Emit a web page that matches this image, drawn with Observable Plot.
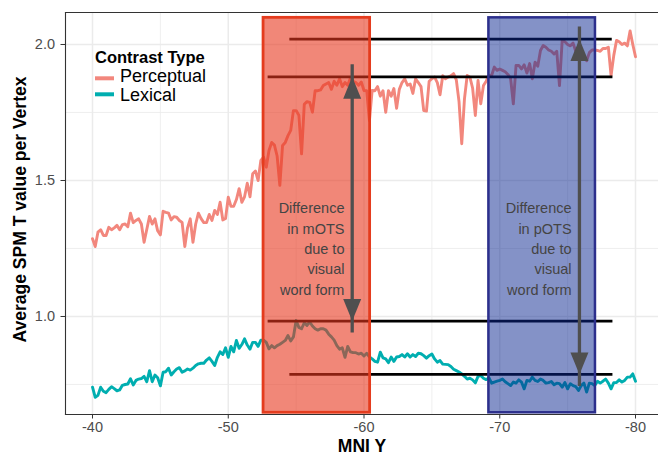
<!DOCTYPE html>
<html><head><meta charset="utf-8">
<script src="https://cdn.jsdelivr.net/npm/d3@7"></script>
<script src="https://cdn.jsdelivr.net/npm/@observablehq/plot@0.6"></script>
<style>
body{margin:0;background:#fff;font-family:"Liberation Sans",Arial,sans-serif;}
#wrap{position:relative;width:658px;height:456px;overflow:hidden}
#legend{position:absolute;left:0;top:0;pointer-events:none}
</style></head><body><div id="wrap"></div>
<script>
// MNI Y grid (regular spacing of the vertex samples)
const xStart = -40, xStep = -0.2;
const perceptual = [
1.286,1.257,1.31,1.319,1.298,1.298,1.328,1.319,1.326,1.335,
1.319,1.338,1.34,1.33,1.38,1.345,1.353,1.359,1.34,1.273,
1.321,1.368,1.34,1.359,1.315,1.30,1.387,1.383,1.38,1.355,
1.367,1.365,1.353,1.346,1.257,1.326,1.359,1.273,1.34,1.38,
1.36,1.345,1.345,1.375,1.353,1.39,1.375,1.42,1.355,1.36,
1.439,1.405,1.405,1.43,1.47,1.42,1.44,1.49,1.44,1.525,
1.535,1.50,1.574,1.586,1.549,1.61,1.64,1.63,1.59,1.482,
1.629,1.64,1.665,1.684,1.757,1.757,1.74,1.598,1.78,1.79,
1.787,1.751,1.83,1.83,1.833,1.849,1.855,1.86,1.835,1.865,
1.85,1.874,1.845,1.86,1.85,1.877,1.865,1.86,1.85,1.862,
1.831,1.83,1.72,1.831,1.83,1.845,1.81,1.83,1.751,1.83,
1.81,1.838,1.765,1.835,1.86,1.874,1.85,1.855,1.82,1.874,
1.86,1.845,1.757,1.755,1.865,1.874,1.88,1.86,1.815,1.885,
1.874,1.88,1.885,1.893,1.87,1.79,1.635,1.80,1.886,1.88,
1.84,1.739,1.868,1.782,1.849,1.865,1.886,1.886,1.917,1.905,
1.91,1.905,1.90,1.89,1.875,1.782,1.923,1.923,1.91,1.925,
1.895,1.93,1.874,1.935,1.92,1.978,1.996,1.99,1.98,1.975,
1.965,1.975,1.849,2.015,2.01,2.00,1.995,2.005,1.975,1.96,
1.965,1.955,1.94,1.97,1.98,1.98,1.978,1.975,1.985,1.985,
1.99,1.886,1.96,2.015,2.01,2.0,2.005,1.995,2.05,2.0,
1.955];
const lexical = [
0.74,0.703,0.71,0.74,0.725,0.72,0.732,0.742,0.735,0.727,
0.73,0.747,0.75,0.752,0.771,0.748,0.765,0.77,0.772,0.78,
0.76,0.801,0.76,0.785,0.775,0.745,0.795,0.797,0.81,0.785,
0.797,0.807,0.812,0.795,0.8,0.807,0.803,0.81,0.82,0.826,
0.828,0.828,0.84,0.848,0.835,0.82,0.85,0.87,0.86,0.885,
0.85,0.89,0.87,0.912,0.883,0.897,0.918,0.895,0.88,0.905,
0.905,0.89,0.913,0.913,0.905,0.881,0.893,0.885,0.893,0.898,
0.905,0.912,0.93,0.91,0.925,0.985,0.96,0.955,0.977,0.967,
0.98,0.965,0.955,0.95,0.955,0.955,0.95,0.935,0.925,0.913,
0.893,0.88,0.885,0.85,0.89,0.87,0.867,0.867,0.862,0.865,
0.855,0.865,0.851,0.844,0.835,0.832,0.869,0.848,0.844,0.83,
0.851,0.835,0.851,0.853,0.86,0.851,0.863,0.851,0.86,0.853,
0.865,0.863,0.856,0.847,0.856,0.862,0.844,0.832,0.838,0.825,
0.824,0.823,0.816,0.806,0.801,0.796,0.789,0.78,0.77,0.773,
0.767,0.756,0.78,0.783,0.773,0.768,0.775,0.755,0.759,0.762,
0.765,0.77,0.76,0.753,0.746,0.759,0.755,0.767,0.759,0.734,
0.765,0.762,0.777,0.765,0.761,0.77,0.765,0.755,0.757,0.761,
0.749,0.755,0.753,0.74,0.757,0.734,0.753,0.746,0.742,0.728,
0.746,0.755,0.722,0.755,0.753,0.746,0.762,0.755,0.762,0.77,
0.755,0.734,0.757,0.757,0.767,0.759,0.765,0.777,0.777,0.789,
0.762];
const seriesNames = ["Perceptual", "Lexical"];
const legendTitle = "Contrast Type";

const xTicks = [-40, -50, -60, -70, -80];
const xMinor = [-45, -55, -65, -75];
const yTicks = [1.0, 1.5, 2.0];
const yMinor = [0.75, 1.25, 1.75];

// highlighted regions (MNI Y extents) and their vertical extent
const regionNames = ["mOTS", "pOTS"];
const regionX1 = [-52.6, -69.2];
const regionX2 = [-60.45, -77.05];
const regionY1 = [0.646, 0.646];
const regionY2 = [2.098, 2.098];

// horizontal reference levels
const levelY = [2.02, 1.881, 0.983, 0.787];
const levelX1 = [-54.5, -52.9, -52.9, -54.5];
const levelX2 = [-78.25, -78.3, -78.3, -78.3];

// difference arrows
const arrowX = [-59.13, -75.87];
const arrowLow = [0.983, 0.787];
const arrowHigh = [1.881, 2.02];

// annotations
const noteText = ["Difference\nin mOTS\ndue to\nvisual\nword form", "Difference\nin pOTS\ndue to\nvisual\nword form"];
const noteX = [-58.56, -75.29];
const noteY = [1.254, 1.254];

const xTitle = "MNI Y";
const yTitle = "Average SPM T value per Vertex";

// build tables
const percData = perceptual.map((v, i) => ({x: xStart + xStep * i, y: v}));
const lexData = lexical.map((v, i) => ({x: xStart + xStep * i, y: v}));
const regions = regionNames.map((n, i) => ({name: n, x1: regionX1[i], x2: regionX2[i], y1: regionY1[i], y2: regionY2[i]}));
const levels = levelY.map((y, i) => ({y, x1: levelX1[i], x2: levelX2[i]}));
const arrows = arrowX.map((x, i) => ({x, lo: arrowLow[i], hi: arrowHigh[i]}));
const notes = noteText.map((t, i) => ({text: t, x: noteX[i], y: noteY[i]}));

const headUp = {draw(ctx) { ctx.moveTo(0, 0); ctx.lineTo(9, 22); ctx.lineTo(-9, 22); ctx.closePath(); }};
const headDown = {draw(ctx) { ctx.moveTo(0, 0); ctx.lineTo(9, -22); ctx.lineTo(-9, -22); ctx.closePath(); }};

const colPerc = "#F2877D", colLex = "#00AEB0", arrowCol = "#4F4F4F", gridCol = "#EBEBEB";
const font = "'Liberation Sans', Arial, sans-serif";

const plot = Plot.plot({
  width: 658, height: 456,
  marginLeft: 65, marginRight: 0, marginTop: 12, marginBottom: 42,
  x: {domain: [-38.01, -81.694]},
  y: {domain: [0.6397, 2.1176]},
  style: {fontFamily: font, fontSize: "14.5px", color: "#4D4D4D", background: "white"},
  marks: [
    Plot.ruleY(yMinor, {stroke: gridCol, strokeWidth: 0.8}),
    Plot.ruleX(xMinor, {stroke: gridCol, strokeWidth: 0.8}),
    Plot.ruleY(yTicks, {stroke: gridCol, strokeWidth: 1.5}),
    Plot.ruleX(xTicks, {stroke: gridCol, strokeWidth: 1.5}),
    Plot.line(percData, {x: "x", y: "y", stroke: colPerc, strokeWidth: 2.9, strokeLinejoin: "round"}),
    Plot.line(lexData, {x: "x", y: "y", stroke: colLex, strokeWidth: 2.9, strokeLinejoin: "round"}),
    Plot.link(levels, {x1: "x1", x2: "x2", y1: "y", y2: "y", stroke: "black", strokeWidth: 2.7}),
    Plot.rect(regions.slice(0, 1), {x1: "x1", x2: "x2", y1: "y1", y2: "y2", fill: "#E8371E", fillOpacity: 0.6, stroke: "#E43C1E", strokeWidth: 2.8}),
    Plot.rect(regions.slice(1, 2), {x1: "x1", x2: "x2", y1: "y1", y2: "y2", fill: "#0A2590", fillOpacity: 0.5, stroke: "#2C2F8C", strokeWidth: 2.5}),
    Plot.ruleX(arrows, {x: "x", y1: "lo", y2: "hi", insetTop: 12, insetBottom: 12, stroke: arrowCol, strokeWidth: 3.3}),
    Plot.dot(arrows, {x: "x", y: "hi", symbol: headUp, fill: arrowCol, stroke: "none"}),
    Plot.dot(arrows, {x: "x", y: "lo", symbol: headDown, fill: arrowCol, stroke: "none"}),
    Plot.text(notes, {x: "x", y: "y", text: "text", textAnchor: "end", lineAnchor: "middle", lineHeight: 1.41, fontSize: 14.5, fill: "#444"}),
    Plot.axisX({ticks: xTicks, tickFormat: d => String(d), tickSize: 4.5, tickPadding: 3, label: null, stroke: "#333", fill: "#4D4D4D", fontSize: 14.5}),
    Plot.axisY({ticks: yTicks, tickFormat: d => d.toFixed(1), tickSize: 4.5, tickPadding: 6, label: null, stroke: "#333", fill: "#4D4D4D", fontSize: 14.5}),
    Plot.frame({anchor: "top", stroke: "#333", strokeWidth: 1.1}),
    Plot.frame({anchor: "left", stroke: "#333", strokeWidth: 1.1}),
    Plot.frame({anchor: "bottom", stroke: "#333", strokeWidth: 1.1}),
    Plot.text([xTitle], {frameAnchor: "bottom", textAnchor: "middle", lineAnchor: "bottom", dy: 37.8, fontWeight: "bold", fontSize: 17.5, fill: "black"}),
    Plot.text([yTitle], {frameAnchor: "left", textAnchor: "middle", rotate: -90, lineAnchor: "middle", dx: -45.5, dy: -4, fontWeight: "bold", fontSize: 17.5, fill: "black"})
  ]
});
const wrap = document.getElementById("wrap");
wrap.appendChild(plot);

// legend overlay (inside the panel, top-left)
const ns = "http://www.w3.org/2000/svg";
const lg = document.createElementNS(ns, "svg");
lg.setAttribute("id", "legend");
lg.setAttribute("width", 658); lg.setAttribute("height", 456);
lg.setAttribute("font-family", font);
const legendColors = [colPerc, colLex];
const t0 = document.createElementNS(ns, "text");
t0.setAttribute("x", 95); t0.setAttribute("y", 62.7);
t0.setAttribute("font-weight", "bold"); t0.setAttribute("font-size", "16.5px"); t0.setAttribute("fill", "black");
t0.textContent = legendTitle; lg.appendChild(t0);
const keyY = [78.3, 94.3], labY = [82.3, 100.7];
seriesNames.forEach((n, i) => {
  const l = document.createElementNS(ns, "line");
  l.setAttribute("x1", 95); l.setAttribute("x2", 114); l.setAttribute("y1", keyY[i]); l.setAttribute("y2", keyY[i]);
  l.setAttribute("stroke", legendColors[i]); l.setAttribute("stroke-width", 4);
  lg.appendChild(l);
  const t = document.createElementNS(ns, "text");
  t.setAttribute("x", 120); t.setAttribute("y", labY[i]); t.setAttribute("font-size", "18px"); t.setAttribute("fill", "black");
  t.textContent = n; lg.appendChild(t);
});
wrap.appendChild(lg);
</script></body></html>
